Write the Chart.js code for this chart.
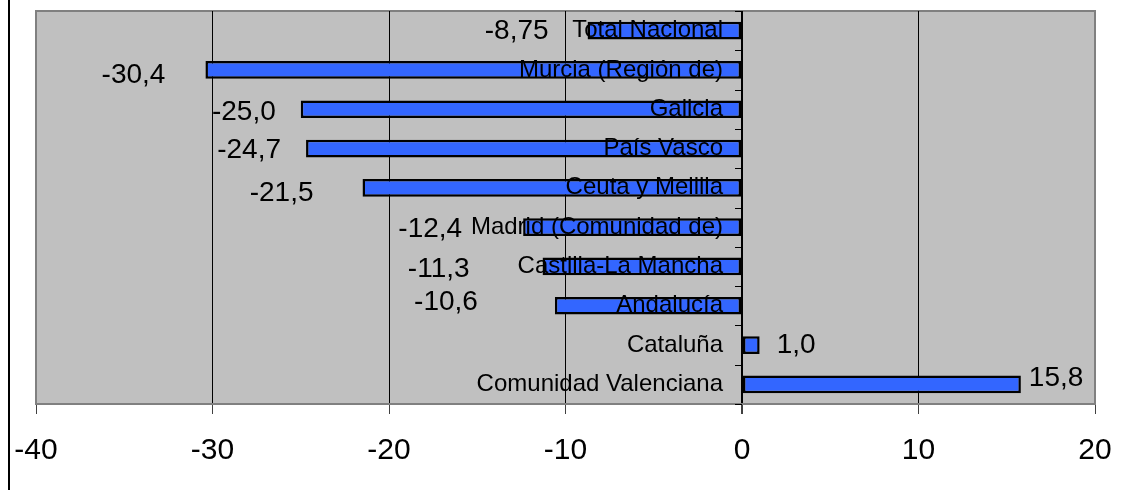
<!DOCTYPE html>
<html>
<head>
<meta charset="utf-8">
<script src="https://cdn.jsdelivr.net/npm/chart.js@4.4.0/dist/chart.umd.min.js"></script>
<style>
  body { margin: 0; background: #fff; overflow: hidden; }
  #wrap { position: relative; width: 1125px; height: 490px; }
</style>
</head>
<body>
<div id="wrap"><canvas id="chart"></canvas></div>
<script>
// regiones, de arriba abajo
const regions = [
    'Total Nacional',
    'Murcia (Región de)',
    'Galicia',
    'País Vasco',
    'Ceuta y Melilla',
    'Madrid (Comunidad de)',
    'Castilla-La Mancha',
    'Andalucía',
    'Cataluña',
    'Comunidad Valenciana'
];
const changes = [-8.75, -30.4, -25.0, -24.7, -21.5, -12.4, -11.3, -10.6, 1.0, 15.8];
const xTicks = [-40, -30, -20, -10, 0, 10, 20];

const FONT = "'Liberation Sans', Arial, sans-serif";

function fmt(v) {
    const s = Number.isInteger(Math.round(v * 100) / 10) ? v.toFixed(1) : v.toFixed(2);
    return s.replace('.', ',');
}

// fondo gris, borde y linea negra de la izquierda
const plotBg = {
    id: 'plotBg',
    beforeDraw(chart) {
        const ctx = chart.ctx;
        const a = chart.chartArea;
        ctx.save();
        ctx.fillStyle = '#000';
        ctx.fillRect(8, 0, 2, chart.height);
        ctx.fillStyle = '#c0c0c0';
        ctx.fillRect(a.left, a.top, a.right - a.left, a.bottom - a.top);
        ctx.strokeStyle = '#808080';
        ctx.lineWidth = 2;
        ctx.strokeRect(a.left, a.top, a.right - a.left, a.bottom - a.top);
        ctx.restore();
    }
};

// etiquetas de categoria y de valor encima de las barras
const barLabels = {
    id: 'barLabels',
    afterDatasetsDraw(chart) {
        const ctx = chart.ctx;
        const x = chart.scales.x;
        const y = chart.scales.y;
        const x0 = x.getPixelForValue(0);
        const gap = [39, 40, 25, 25, 49, 61, 73, 77, 17, 8];
        const dy = [1, 5, 3, 2, 5, 2, 3, -3, 0, -6];
        ctx.save();

        // marcas del eje vertical
        ctx.strokeStyle = '#000';
        ctx.lineWidth = 1;
        for (let i = 0; i <= regions.length; i++) {
            const yy = Math.round(y.getPixelForValue(i - 0.5)) + 0.5;
            ctx.beginPath();
            ctx.moveTo(x0 - 7, yy);
            ctx.lineTo(x0, yy);
            ctx.stroke();
        }

        ctx.fillStyle = '#000';
        ctx.textBaseline = 'middle';
        chart.getDatasetMeta(0).data.forEach((bar, i) => {
            ctx.font = '24px ' + FONT;
            ctx.textAlign = 'right';
            ctx.fillText(regions[i], x0 - 19, bar.y);

            ctx.font = '28px ' + FONT;
            const v = changes[i];
            if (v < 0) {
                ctx.textAlign = 'right';
                ctx.fillText(fmt(v), bar.x - gap[i], bar.y + dy[i]);
            } else {
                ctx.textAlign = 'left';
                ctx.fillText(fmt(v), bar.x + gap[i], bar.y + dy[i]);
            }
        });
        ctx.restore();
    }
};

const ctx = document.getElementById('chart').getContext('2d');
const myChart = new Chart(ctx, {
    type: 'bar',
    data: {
        labels: regions,
        datasets: [{
            data: changes,
            backgroundColor: '#3366ff',
            borderColor: '#000',
            borderWidth: 2.5,
            borderSkipped: false,
            barPercentage: 0.45,
            categoryPercentage: 1.0
        }]
    },
    options: {
        indexAxis: 'y',
        responsive: true,
        maintainAspectRatio: false,
        animation: false,
        layout: { padding: { left: 36, right: 30, top: 11, bottom: 2 } },
        plugins: {
            legend: { display: false },
            tooltip: { enabled: false }
        },
        scales: {
            x: {
                min: xTicks[0],
                max: xTicks[xTicks.length - 1],
                afterBuildTicks: scale => { scale.ticks = xTicks.map(v => ({ value: v })); },
                afterFit: scale => { scale.paddingLeft = 0; scale.paddingRight = 0; },
                ticks: {
                    color: '#000',
                    font: { family: FONT, size: 30 },
                    padding: 19,
                    maxRotation: 0,
                    callback: v => String(v)
                },
                grid: {
                    color: c => (c.tick && (c.tick.value === -40 || c.tick.value === 20)) ? '#808080' : '#000',
                    lineWidth: c => (c.tick && c.tick.value === 0) ? 2 : 1,
                    tickLength: 10,
                    tickColor: '#404040',
                    drawTicks: true
                },
                border: { display: true, color: '#808080', width: 2 }
            },
            y: {
                display: false
            }
        }
    },
    plugins: [plotBg, barLabels]
});
</script>
</body>
</html>
